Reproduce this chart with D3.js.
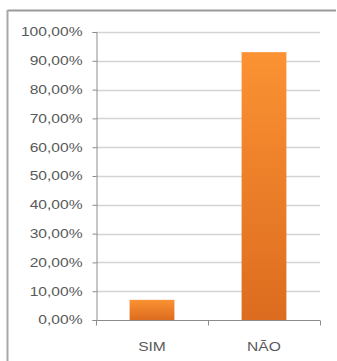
<!DOCTYPE html>
<html>
<head>
<meta charset="utf-8">
<script src="https://cdn.jsdelivr.net/npm/d3@7"></script>
<style>
  html, body { margin: 0; padding: 0; background: #fff; }
  svg { display: block; }
</style>
</head>
<body>
<svg id="chart" width="337" height="361"></svg>
<script>
// Respostas (percentagem)
const categories = ["SIM", "NÃO"];
const values = [0.07, 0.93];
const yTicks = [0, 0.1, 0.2, 0.3, 0.4, 0.5, 0.6, 0.7, 0.8, 0.9, 1.0];

const svg = d3.select("#chart");
const W = 337, H = 361;
const margin = { left: 96, right: 17, top: 32, bottom: 41 };

const x = d3.scaleBand()
  .domain(categories)
  .range([margin.left, W - margin.right])
  .paddingInner(0.6)
  .paddingOuter(0.3);

const y = d3.scaleLinear()
  .domain([0, 1])
  .range([H - margin.bottom, margin.top]);

const fmt = v => (v * 100).toFixed(2).replace(".", ",") + "%";

// frame
svg.append("line").attr("x1", 7.5).attr("x2", 336).attr("y1", 10.5).attr("y2", 10.5)
  .attr("stroke", "#9a9a9a").attr("stroke-width", 2);
svg.append("line").attr("x1", 7.5).attr("x2", 7.5).attr("y1", 10).attr("y2", H)
  .attr("stroke", "#a8a8a8").attr("stroke-width", 2);

// gradient for bars
const defs = svg.append("defs");
const grad = defs.append("linearGradient").attr("id", "barGrad")
  .attr("x1", 0).attr("y1", 0).attr("x2", 0).attr("y2", 1);
grad.append("stop").attr("offset", "0%").attr("stop-color", "#fb9233");
grad.append("stop").attr("offset", "100%").attr("stop-color", "#dc6c1f");

// gridlines
svg.append("g")
  .selectAll("line")
  .data(yTicks.filter(d => d > 0))
  .join("line")
  .attr("x1", margin.left).attr("x2", W - margin.right)
  .attr("y1", d => Math.round(y(d)) + 0.5).attr("y2", d => Math.round(y(d)) + 0.5)
  .attr("stroke", "#d4d4d4").attr("stroke-width", 1.5);

// y axis
const yAxis = d3.axisLeft(y).tickValues(yTicks).tickFormat(fmt).tickSize(4).tickPadding(10);
const gy = svg.append("g").attr("transform", `translate(${margin.left + 0.5},0)`).call(yAxis);
gy.select(".domain").attr("stroke", "#8c8c8c");
gy.selectAll(".tick line").attr("stroke", "#8c8c8c");
gy.selectAll(".tick text")
  .attr("fill", "#595959")
  .style("font-family", "'Liberation Sans', Arial, sans-serif")
  .style("font-size", "12px")
  .each(function() {
    const t = d3.select(this);
    const tx = +t.attr("x");
    t.attr("transform", `translate(${tx},0) scale(1.3,1) translate(${-tx},0)`);
  });

// bars
svg.append("g")
  .selectAll("rect")
  .data(categories.map((c, i) => ({ c, v: values[i] })))
  .join("rect")
  .attr("x", d => x(d.c))
  .attr("width", x.bandwidth())
  .attr("y", d => y(d.v))
  .attr("height", d => y(0) - y(d.v))
  .attr("fill", "url(#barGrad)");

// x axis
const xAxis = d3.axisBottom(x).tickSize(0).tickPadding(22);
const gx = svg.append("g").attr("transform", `translate(0,${y(0) + 0.5})`).call(xAxis);
gx.select(".domain").attr("stroke", "#8c8c8c").attr("d", `M${margin.left},0H${W - margin.right}`);
gx.selectAll(".tick text")
  .attr("fill", "#595959")
  .style("font-family", "'Liberation Sans', Arial, sans-serif")
  .style("font-size", "12px")
  .attr("transform", "scale(1.3,1)")
  .attr("x", 0);
gx.selectAll(".tick").each(function(d) {
  const cx = x(d) + x.bandwidth() / 2;
  d3.select(this).attr("transform", `translate(${cx},0)`);
});
// category separators
const edges = [margin.left, (margin.left + W - margin.right) / 2, W - margin.right];
gx.append("g").selectAll("line").data(edges).join("line")
  .attr("x1", d => d + 0.5).attr("x2", d => d + 0.5).attr("y1", 0).attr("y2", 5)
  .attr("stroke", "#8c8c8c");
</script>
</body>
</html>
